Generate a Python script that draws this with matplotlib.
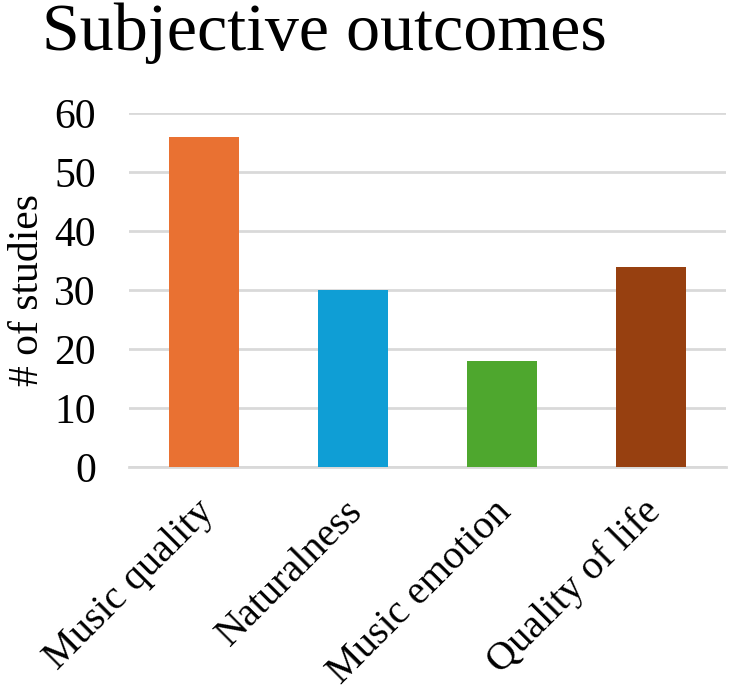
import matplotlib
matplotlib.use("Agg")
import matplotlib.pyplot as plt
import matplotlib.transforms as mtransforms

categories = ['Music quality', 'Naturalness', 'Music emotion', 'Quality of life']
n_studies = [56, 30, 18, 34]
bar_colors = ['#E97132', '#0F9ED5', '#4EA72E', '#974010']
y_ticks = [0, 10, 20, 30, 40, 50, 60]

plt.rcParams['font.family'] = ['Liberation Serif', 'DejaVu Serif']

fig = plt.figure(figsize=(7.3, 6.95), dpi=100)
ax = fig.add_axes([0.177, 0.328, 0.817, 0.509])

x = range(len(categories))
ax.bar(x, n_studies, width=0.47, color=bar_colors, zorder=3)

# format the plot
ax.set_xlim(-0.5, len(categories) - 0.5)
ax.set_ylim(0, 60)
ax.set_yticks(y_ticks)
ax.yaxis.grid(True, color='#D9D9D9', linewidth=2, zorder=0)
for side in ['top', 'right', 'left']:
    ax.spines[side].set_visible(False)
ax.spines['bottom'].set_color('#D9D9D9')
ax.spines['bottom'].set_linewidth(2)
ax.tick_params(axis='y', length=0, labelsize=30, pad=24)

ax.set_xticks(list(x))
ax.set_xticklabels(categories, rotation=45, ha='right', va='top',
                   rotation_mode='anchor', fontsize=29)
ax.tick_params(axis='x', length=0, pad=19)
# nudge the rotated labels a bit to the left
offset = mtransforms.ScaledTranslation(-9 / 100, 0, fig.dpi_scale_trans)
for lab in ax.get_xticklabels():
    lab.set_transform(lab.get_transform() + offset)

ax.set_ylabel('# of studies', fontsize=30, labelpad=5)
fig.suptitle('Subjective outcomes', fontsize=49, x=0.445, y=0.997, va='top')

plt.savefig('out.png', dpi=100)
plt.close()
